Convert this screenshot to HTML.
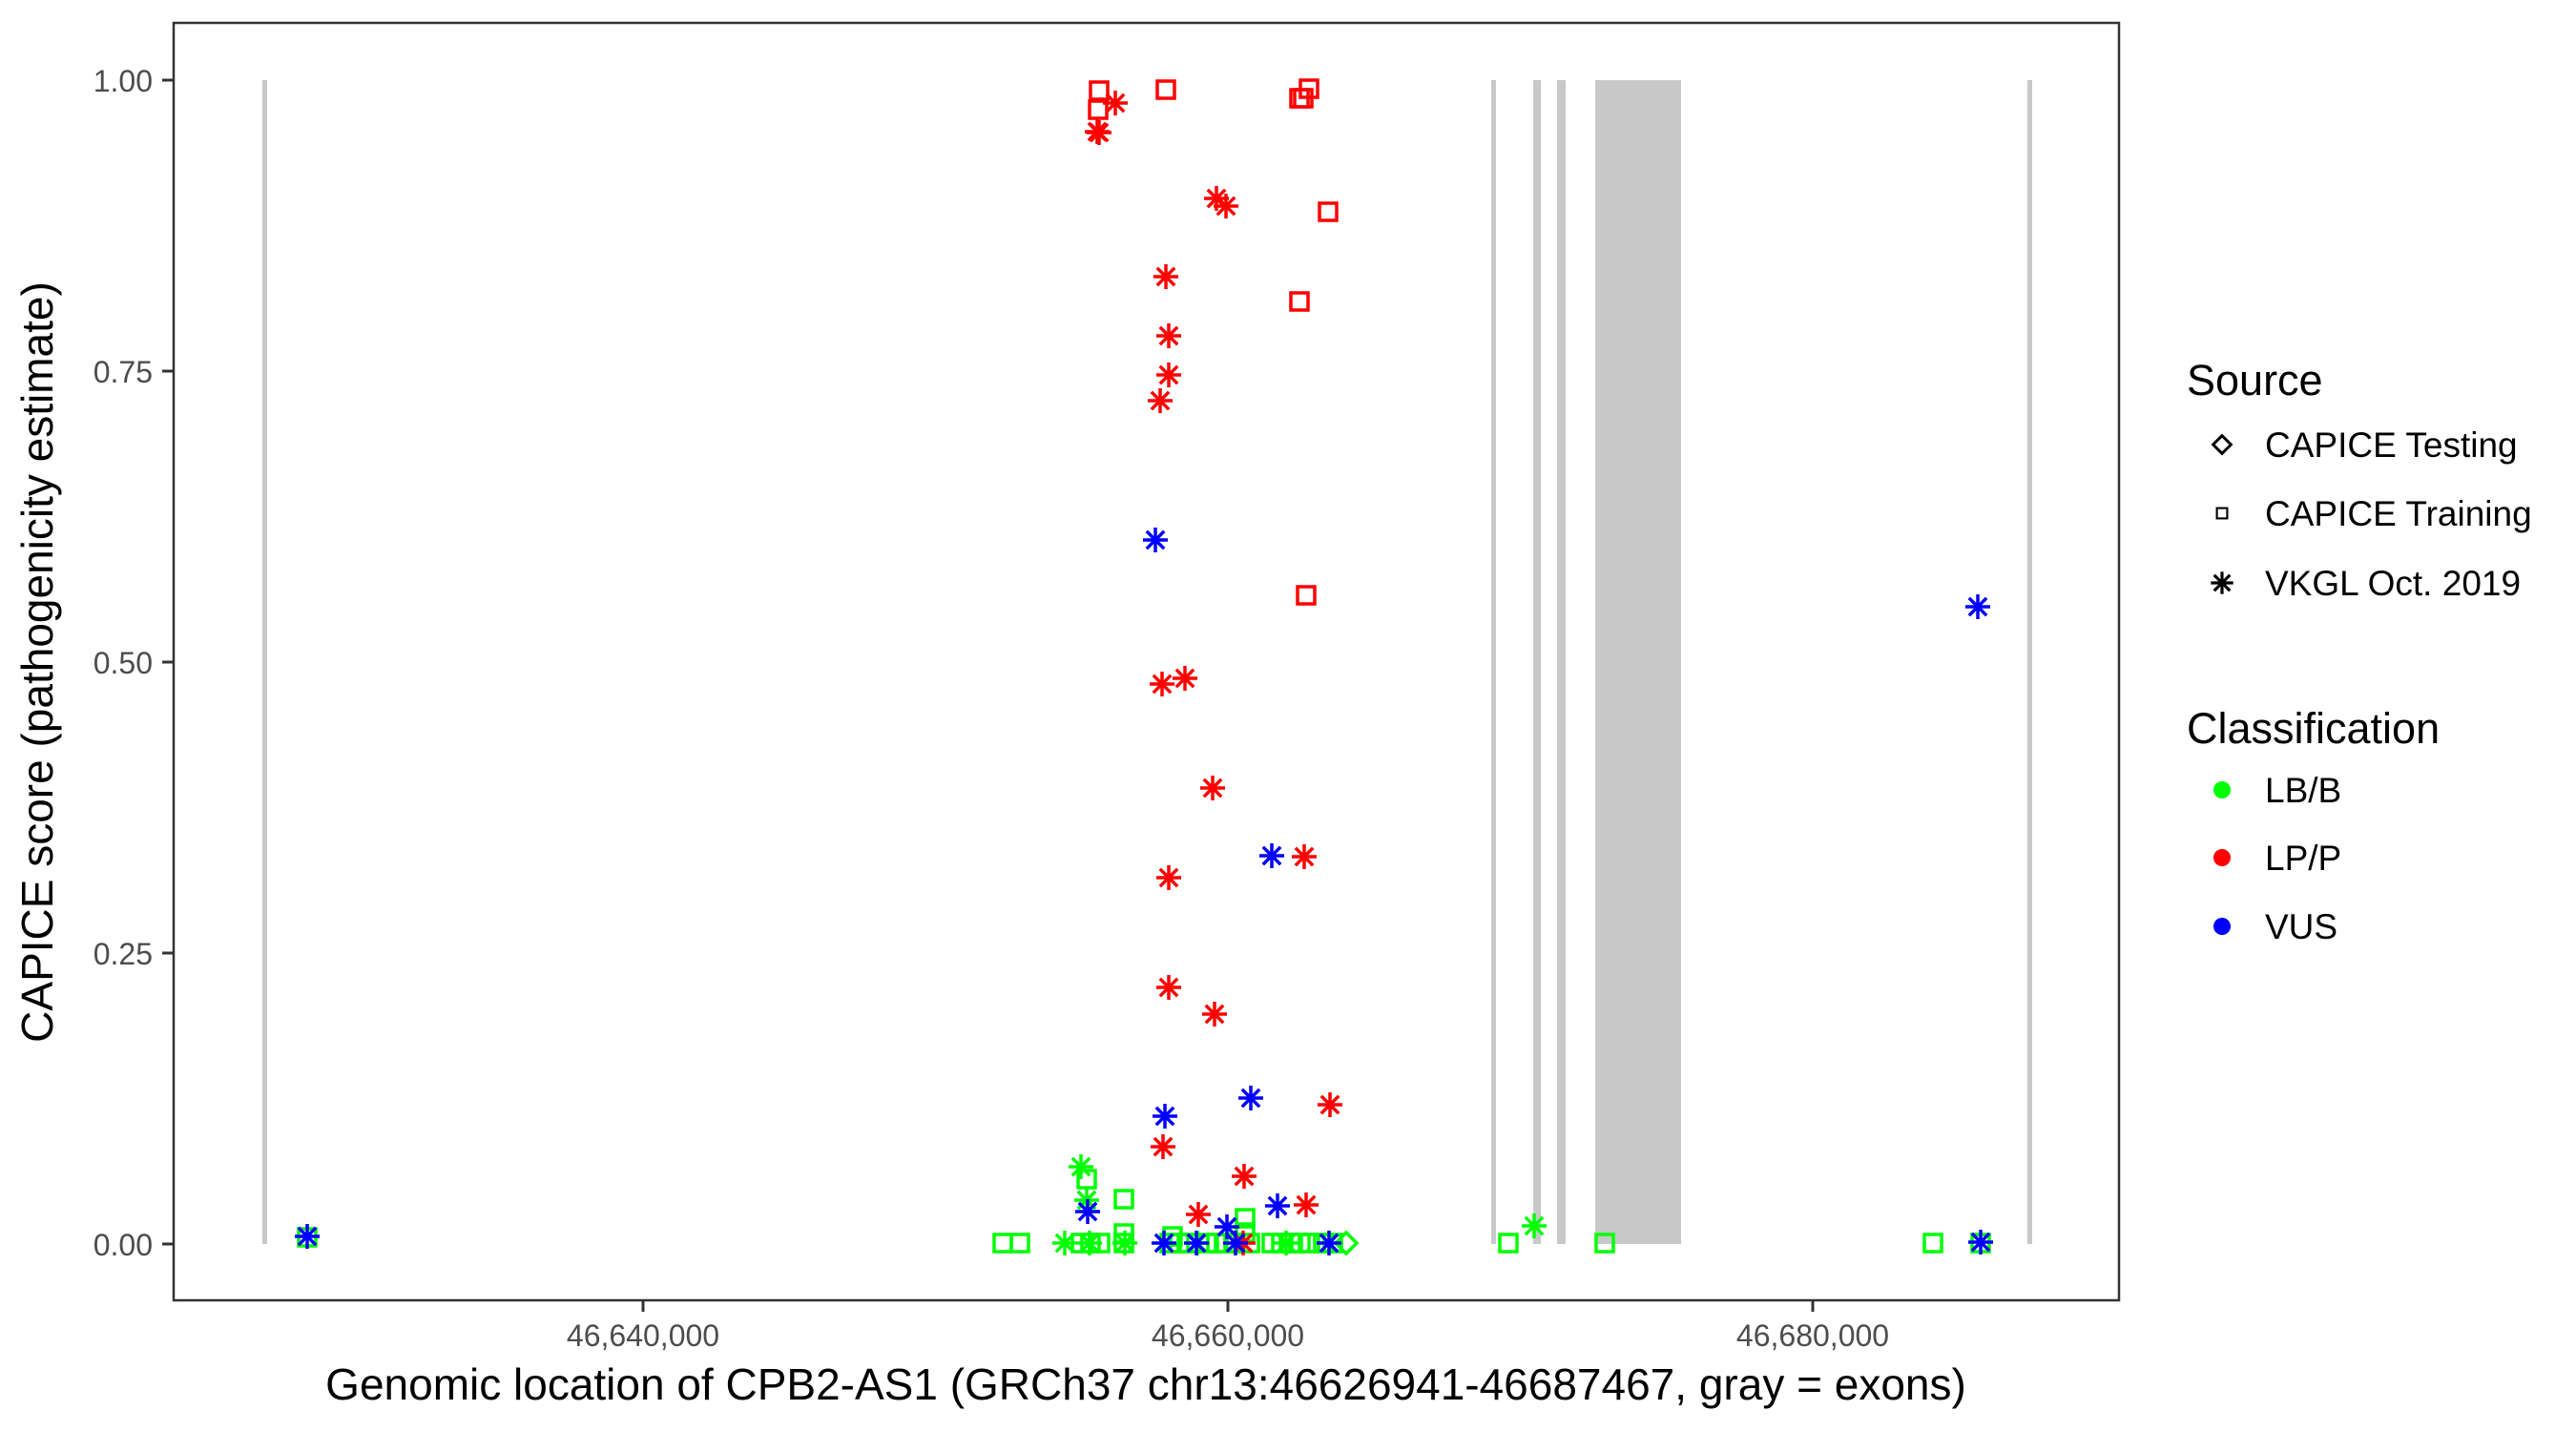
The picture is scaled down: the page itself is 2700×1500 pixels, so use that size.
<!DOCTYPE html>
<html><head><meta charset="utf-8"><style>html,body{margin:0;padding:0;background:#fff}svg{display:block}</style></head>
<body>
<svg width="2700" height="1500" viewBox="0 0 2700 1500" xmlns="http://www.w3.org/2000/svg" font-family="Liberation Sans, Arial, sans-serif">
<defs>
<g id="sq"><rect x="-9" y="-9" width="18" height="18" fill="none" stroke-width="3.5"/></g>
<g id="st" stroke-width="3.5"><line x1="-13" y1="0" x2="13" y2="0"/><line x1="0" y1="-13" x2="0" y2="13"/><line x1="-9.2" y1="-9.2" x2="9.2" y2="9.2"/><line x1="-9.2" y1="9.2" x2="9.2" y2="-9.2"/></g>
<g id="di"><polygon points="0,-11 11,0 0,11 -11,0" fill="none" stroke-width="3.5"/></g>
</defs>
<rect width="2700" height="1500" fill="#fff"/>
<g fill="#c8c8c8">
<rect x="275" y="84" width="5" height="1220"/>
<rect x="1563" y="84" width="5" height="1220"/>
<rect x="1607" y="84" width="8" height="1220"/>
<rect x="1632" y="84" width="9" height="1220"/>
<rect x="1672" y="84" width="90" height="1220"/>
<rect x="2125" y="84" width="5" height="1220"/>
</g>
<g stroke="#00ff00">
<use href="#sq" x="1051" y="1303"/><use href="#sq" x="1069" y="1303"/>
<use href="#st" x="1116" y="1303"/>
<use href="#st" x="1133" y="1223"/><use href="#sq" x="1139" y="1236"/><use href="#st" x="1139" y="1258"/>
<use href="#sq" x="1133" y="1303"/><use href="#sq" x="1143" y="1303"/><use href="#sq" x="1153" y="1303"/><use href="#st" x="1142" y="1303"/>
<use href="#sq" x="1178" y="1257"/><use href="#sq" x="1178" y="1293"/><use href="#sq" x="1178" y="1303"/><use href="#st" x="1179" y="1303"/>
<use href="#sq" x="1229" y="1296"/><use href="#sq" x="1236" y="1303"/><use href="#sq" x="1226" y="1303"/><use href="#sq" x="1246" y="1303"/>
<use href="#st" x="1255" y="1303"/><use href="#sq" x="1265" y="1303"/><use href="#sq" x="1275" y="1303"/><use href="#sq" x="1285" y="1303"/><use href="#sq" x="1295" y="1303"/>
<use href="#sq" x="1305" y="1277"/><use href="#sq" x="1305" y="1292"/><use href="#sq" x="1310" y="1303"/>
<use href="#sq" x="1333" y="1303"/><use href="#sq" x="1343" y="1303"/><use href="#sq" x="1353" y="1303"/><use href="#st" x="1348" y="1303"/>
<use href="#sq" x="1363" y="1303"/><use href="#sq" x="1373" y="1303"/><use href="#sq" x="1387" y="1303"/><use href="#sq" x="1397" y="1303"/>
<use href="#di" x="1411" y="1303"/>
<use href="#sq" x="1581" y="1303"/><use href="#st" x="1608" y="1285"/><use href="#sq" x="1682" y="1303"/>
<use href="#sq" x="2026" y="1303"/><use href="#sq" x="2076" y="1303"/><use href="#sq" x="322" y="1297"/>
</g>
<g stroke="#ff0000">
<use href="#sq" x="1152" y="95"/><use href="#sq" x="1151" y="115"/><use href="#sq" x="1222" y="94"/>
<use href="#sq" x="1362" y="103"/><use href="#sq" x="1366" y="103"/><use href="#sq" x="1372" y="93"/>
<use href="#sq" x="1392" y="222"/><use href="#sq" x="1362" y="316"/><use href="#sq" x="1369" y="624"/>
<use href="#st" x="1150" y="138"/><use href="#st" x="1152" y="139"/><use href="#st" x="1169" y="108"/>
<use href="#st" x="1275" y="208"/><use href="#st" x="1285" y="216"/>
<use href="#st" x="1222" y="290"/><use href="#st" x="1225" y="352"/><use href="#st" x="1225" y="393"/><use href="#st" x="1216" y="420"/>
<use href="#st" x="1218" y="717"/><use href="#st" x="1242" y="711"/><use href="#st" x="1271" y="826"/>
<use href="#st" x="1225" y="920"/><use href="#st" x="1367" y="898"/><use href="#st" x="1225" y="1035"/><use href="#st" x="1273" y="1063"/>
<use href="#st" x="1219" y="1202"/><use href="#st" x="1304" y="1233"/><use href="#st" x="1394" y="1158"/>
<use href="#st" x="1256" y="1273"/><use href="#st" x="1369" y="1263"/><use href="#st" x="1303" y="1303"/>
</g>
<g stroke="#0000ff">
<use href="#st" x="322" y="1296"/><use href="#st" x="1211" y="566"/><use href="#st" x="2073" y="636"/>
<use href="#st" x="1333" y="897"/><use href="#st" x="1311" y="1151"/><use href="#st" x="1221" y="1170"/>
<use href="#st" x="1140" y="1270"/><use href="#st" x="1339" y="1264"/><use href="#st" x="1286" y="1286"/>
<use href="#st" x="1220" y="1303"/><use href="#st" x="1254" y="1303"/><use href="#st" x="1295" y="1303"/>
<use href="#st" x="1393" y="1303"/><use href="#st" x="2076" y="1302"/>
</g>
<rect x="182" y="24" width="2039" height="1339" fill="none" stroke="#333" stroke-width="2.5"/>
<g stroke="#333" stroke-width="3">
<line x1="170" y1="84" x2="182" y2="84"/><line x1="170" y1="389" x2="182" y2="389"/><line x1="170" y1="694" x2="182" y2="694"/><line x1="170" y1="999" x2="182" y2="999"/><line x1="170" y1="1304" x2="182" y2="1304"/>
<line x1="674" y1="1363" x2="674" y2="1375"/><line x1="1287" y1="1363" x2="1287" y2="1375"/><line x1="1900" y1="1363" x2="1900" y2="1375"/>
</g>
<g fill="#4d4d4d" font-size="32" text-anchor="end">
<text x="160" y="96">1.00</text><text x="160" y="401">0.75</text><text x="160" y="706">0.50</text><text x="160" y="1011">0.25</text><text x="160" y="1316">0.00</text>
</g>
<g fill="#4d4d4d" font-size="32" text-anchor="middle">
<text x="674" y="1411">46,640,000</text><text x="1287" y="1411">46,660,000</text><text x="1900" y="1411">46,680,000</text>
</g>
<text x="1201" y="1467" font-size="46" text-anchor="middle" fill="#000">Genomic location of CPB2-AS1 (GRCh37 chr13:46626941-46687467, gray = exons)</text>
<text transform="translate(55,694) rotate(-90)" font-size="46" text-anchor="middle" fill="#000">CAPICE score (pathogenicity estimate)</text>
<text x="2292" y="414" font-size="45" fill="#000">Source</text>
<g stroke="#000">
<g transform="translate(2329,466) scale(0.85)"><use href="#di"/></g>
<g transform="translate(2329,538) scale(0.6)"><use href="#sq"/></g>
<g transform="translate(2329,611) scale(0.9)"><use href="#st"/></g>
</g>
<g font-size="37" fill="#000">
<text x="2374" y="479">CAPICE Testing</text>
<text x="2374" y="551">CAPICE Training</text>
<text x="2374" y="624">VKGL Oct. 2019</text>
</g>
<text x="2292" y="779" font-size="45" fill="#000">Classification</text>
<circle cx="2329" cy="828" r="9" fill="#00ff00"/>
<circle cx="2329" cy="899" r="9" fill="#ff0000"/>
<circle cx="2329" cy="971" r="9" fill="#0000ff"/>
<g font-size="37" fill="#000">
<text x="2374" y="841">LB/B</text>
<text x="2374" y="912">LP/P</text>
<text x="2374" y="984">VUS</text>
</g>
</svg>
</body></html>
